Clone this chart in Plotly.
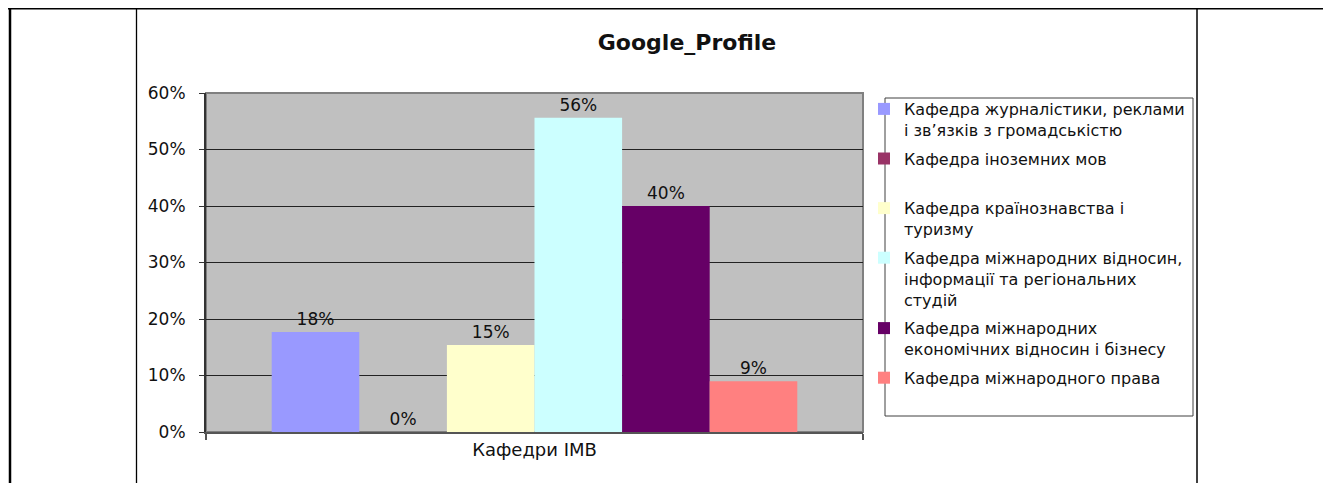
import plotly.graph_objects as go

# The page has an 8px body margin, so figure coordinates = screen coordinates - 8
W, H = 1323, 475
ML, MR, MT, MB = 198, 468, 85, 51
PW = W - ML - MR
PH = H - MT - MB

category = ["Кафедри ІМВ"]
series_names = [
    "Кафедра журналістики, реклами<br>і зв’язків з громадськістю",
    "Кафедра іноземних мов<br>\u00a0",
    "Кафедра країнознавства і<br>туризму",
    "Кафедра міжнародних відносин,<br>інформації та регіональних<br>студій",
    "Кафедра міжнародних<br>економічних відносин і бізнесу",
    "Кафедра міжнародного права<br>\u00a0",
]
series_values = [0.177, 0.0, 0.154, 0.556, 0.40, 0.09]
series_colors = ["#9999FF", "#993366", "#FFFFCC", "#CCFFFF", "#660066", "#FF8080"]
y_ticks = [0, 0.1, 0.2, 0.3, 0.4, 0.5, 0.6]

FONT = "DejaVu Sans, Liberation Sans, Arial, sans-serif"

fig = go.Figure()
for name, val, col in zip(series_names, series_values, series_colors):
    fig.add_trace(go.Bar(
        x=category, y=[val], name=name,
        marker=dict(color=col, line=dict(width=0)),
        texttemplate="%{y:.0%}", textposition="outside",
        textfont=dict(family=FONT, size=17, color="#111"),
        cliponaxis=False,
        legendgroup=name,
    ))


def px_x(px):
    return (px - ML) / PW


def px_y(py):
    return (H - MB - py) / PH


shapes = []
# plot area border (top / right) in gray
shapes.append(dict(type="rect", xref="x domain", yref="y domain", x0=0, x1=1, y0=0, y1=1,
                   line=dict(color="#808080", width=2), layer="below"))
# legend box
shapes.append(dict(type="rect", xref="paper", yref="paper",
                   x0=px_x(877), x1=px_x(1185), y0=px_y(408), y1=px_y(90),
                   line=dict(color="#404040", width=1), fillcolor="rgba(0,0,0,0)"))
# surrounding table frame
frame = [
    (0, 0.3, 1318, 0.3, 2.5),
    (2, 0, 2, 480, 2.5),
    (128.5, 0, 128.5, 480, 1.3),
    (1189, 0, 1189, 480, 1.5),
    (1316.3, 0, 1316.3, 480, 2.2),
]
for x0, y0, x1, y1, w in frame:
    shapes.append(dict(type="line", xref="paper", yref="paper",
                       x0=px_x(x0), y0=px_y(y0), x1=px_x(x1), y1=px_y(y1),
                       line=dict(color="black", width=w)))

fig.update_layout(
    width=W, height=H,
    margin=dict(l=ML, r=MR, t=MT, b=MB, autoexpand=False),
    paper_bgcolor="white",
    plot_bgcolor="#C0C0C0",
    barmode="group", bargap=0.2, bargroupgap=0,
    font=dict(family=FONT, color="#111"),
    title=dict(text="<b>Google_Profile</b>", x=679 / W, xref="container", xanchor="center",
               y=1 - 34 / H, yref="container", yanchor="middle",
               font=dict(family=FONT, size=22, color="#111")),
    showlegend=True,
    legend=dict(x=px_x(856), y=px_y(84), xanchor="left", yanchor="top",
                xref="paper", yref="paper", maxheight=420,
                bgcolor="rgba(0,0,0,0)", borderwidth=0,
                font=dict(family=FONT, size=16, color="#111"),
                valign="top", tracegroupgap=5, traceorder="grouped"),
    shapes=shapes,
    xaxis=dict(type="category", showgrid=False, showline=True, linecolor="#555", linewidth=2,
               ticks="outside", tickson="boundaries", ticklen=6, tickcolor="#555", tickwidth=2,
               tickfont=dict(family=FONT, size=18, color="#111"), zeroline=False),
    yaxis=dict(range=[0, 0.6], tickvals=y_ticks, tickformat=".0%",
               showgrid=True, gridcolor="#222", gridwidth=1,
               showline=True, linecolor="#333", linewidth=2,
               ticks="outside", ticklen=5, tickcolor="#333", ticklabelstandoff=10,
               tickfont=dict(family=FONT, size=17, color="#111"), zeroline=False),
)

fig.write_html("out.html")
